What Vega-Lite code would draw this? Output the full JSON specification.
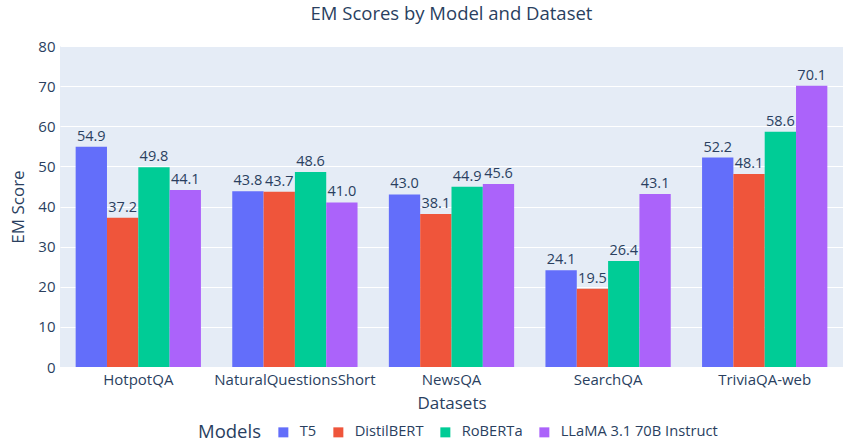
{
  "$schema": "https://vega.github.io/schema/vega-lite/v6.json",
  "autosize": "none",
  "width": 783,
  "height": 321,
  "padding": {"left": 60, "top": 46, "right": 7, "bottom": 80},
  "background": "white",
  "title": {"text": "EM Scores by Model and Dataset", "fontSize": 18.5, "fontWeight": "normal", "color": "#2a3f5f", "font": "Open Sans", "anchor": "middle", "offset": 16},
  "config": {
    "font": "Open Sans",
    "view": {"fill": "#E5ECF6", "stroke": null},
    "axis": {"labelColor": "#2a3f5f", "titleColor": "#2a3f5f", "labelFontSize": 15, "titleFontSize": 17, "titleFontWeight": "normal", "gridColor": "white", "gridWidth": 1, "domain": false, "ticks": false, "labelOverlap": false}
  },
  "data": {"values": [
    {"Dataset": "HotpotQA", "Model": "T5", "EM": 54.9},
    {"Dataset": "HotpotQA", "Model": "DistilBERT", "EM": 37.2},
    {"Dataset": "HotpotQA", "Model": "RoBERTa", "EM": 49.8},
    {"Dataset": "HotpotQA", "Model": "LLaMA 3.1 70B Instruct", "EM": 44.1},
    {"Dataset": "NaturalQuestionsShort", "Model": "T5", "EM": 43.8},
    {"Dataset": "NaturalQuestionsShort", "Model": "DistilBERT", "EM": 43.7},
    {"Dataset": "NaturalQuestionsShort", "Model": "RoBERTa", "EM": 48.6},
    {"Dataset": "NaturalQuestionsShort", "Model": "LLaMA 3.1 70B Instruct", "EM": 41.0},
    {"Dataset": "NewsQA", "Model": "T5", "EM": 43.0},
    {"Dataset": "NewsQA", "Model": "DistilBERT", "EM": 38.1},
    {"Dataset": "NewsQA", "Model": "RoBERTa", "EM": 44.9},
    {"Dataset": "NewsQA", "Model": "LLaMA 3.1 70B Instruct", "EM": 45.6},
    {"Dataset": "SearchQA", "Model": "T5", "EM": 24.1},
    {"Dataset": "SearchQA", "Model": "DistilBERT", "EM": 19.5},
    {"Dataset": "SearchQA", "Model": "RoBERTa", "EM": 26.4},
    {"Dataset": "SearchQA", "Model": "LLaMA 3.1 70B Instruct", "EM": 43.1},
    {"Dataset": "TriviaQA-web", "Model": "T5", "EM": 52.2},
    {"Dataset": "TriviaQA-web", "Model": "DistilBERT", "EM": 48.1},
    {"Dataset": "TriviaQA-web", "Model": "RoBERTa", "EM": 58.6},
    {"Dataset": "TriviaQA-web", "Model": "LLaMA 3.1 70B Instruct", "EM": 70.1}
  ]},
  "encoding": {
    "x": {"field": "Dataset", "type": "nominal", "sort": null, "scale": {"paddingInner": 0.2, "paddingOuter": 0.1},
          "axis": {"title": "Datasets", "labelAngle": 0, "grid": false, "labelPadding": 5, "titlePadding": 8}},
    "xOffset": {"field": "Model", "type": "nominal", "sort": ["T5", "DistilBERT", "RoBERTa", "LLaMA 3.1 70B Instruct"], "scale": {"paddingInner": 0, "paddingOuter": 0}},
    "y": {"field": "EM", "type": "quantitative", "scale": {"domain": [0, 80], "nice": false},
          "axis": {"title": "EM Score", "values": [0,10,20,30,40,50,60,70,80], "labelPadding": 5, "titlePadding": 10}}
  },
  "layer": [
    {"mark": {"type": "bar"},
     "encoding": {"color": {"field": "Model", "type": "nominal", "sort": ["T5", "DistilBERT", "RoBERTa", "LLaMA 3.1 70B Instruct"],
        "scale": {"domain": ["T5", "DistilBERT", "RoBERTa", "LLaMA 3.1 70B Instruct"], "range": ["#636EFA", "#EF553B", "#00CC96", "#AB63FA"]},
        "legend": {"title": "Models", "orient": "none", "direction": "horizontal", "titleOrient": "left", "legendX": 138, "legendY": 379,
          "titleFontSize": 18.5, "titleFontWeight": "normal", "titleColor": "#2a3f5f", "labelColor": "#2a3f5f", "labelFontSize": 14.7,
          "symbolType": "square", "symbolSize": 100, "symbolStrokeWidth": 0, "columnPadding": 14, "titlePadding": 15, "labelOffset": 9, "gridAlign": "none"}}}},
    {"mark": {"type": "text", "dy": -10, "fontSize": 14.5, "color": "#2a3f5f"},
     "encoding": {"text": {"field": "EM", "type": "quantitative", "format": ".1f"}}}
  ]
}
